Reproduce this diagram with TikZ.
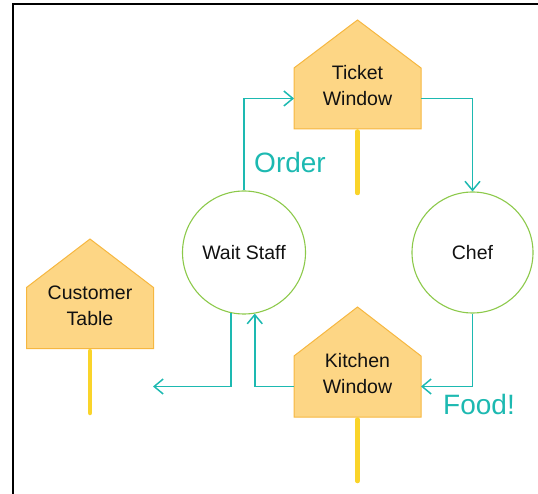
\documentclass[tikz,border=0pt]{standalone}
\usepackage{fontspec}
\setmainfont{Liberation Sans}
\usetikzlibrary{arrows.meta}
\definecolor{teal1}{HTML}{1DB9B1}
\definecolor{pfill}{HTML}{FDD685}
\definecolor{pdraw}{HTML}{F6B740}
\definecolor{stick}{HTML}{FAD42A}
\definecolor{cgreen}{HTML}{8CC94A}
\definecolor{txt}{HTML}{111111}
\begin{document}
\begin{tikzpicture}[x=1pt,y=-1pt,
  body/.style={minimum width=127pt,minimum height=61pt,inner sep=0pt,outer sep=0pt},
  pent/.style={fill=pfill,draw=pdraw,line width=1pt,line join=miter},
  lbl/.style={align=center,text=txt,font=\fontsize{19.5}{26}\selectfont},
  stickline/.style={draw=stick,line width=4.5pt,line cap=round},
  circ/.style={circle,draw=cgreen,line width=1.1pt,inner sep=0pt,text=txt,font=\fontsize{19.5}{26}\selectfont},
  flow/.style={draw=teal1,line width=1.5pt,-{Straight Barb[length=9pt,width=15pt,line width=1.5pt]}},
  big/.style={text=teal1,font=\fontsize{28}{32}\selectfont,inner sep=0pt}]
\useasboundingbox (0,0) rectangle (538,494);
% frame
\draw[line width=2pt] (12.5,494) -- (12.5,4.5) -- (538,4.5);

% Ticket Window
\node[body] (tw) at (357.5,98.5) {};
\filldraw[pent] (tw.south west) -- (tw.north west) -- (357.5,20) -- (tw.north east) -- (tw.south east) -- cycle;
\node[lbl] (twt) at (357.5,86) {Ticket\\Window};
\coordinate (twend) at (357.5,193);
\draw[stickline] ([yshift=-2.5pt]tw.south) -- (twend);

% Kitchen Window
\node[body] (kw) at (357.5,386.5) {};
\filldraw[pent] (kw.south west) -- (kw.north west) -- (357.5,307) -- (kw.north east) -- (kw.south east) -- cycle;
\node[lbl] (kwt) at (357.5,374) {Kitchen\\Window};
\coordinate (kwend) at (357.5,481);
\draw[stickline] ([yshift=-2.5pt]kw.south) -- (kwend);

% Customer Table
\node[body] (ct) at (90,318) {};
\filldraw[pent] (ct.south west) -- (ct.north west) -- (90,239) -- (ct.north east) -- (ct.south east) -- cycle;
\node[lbl] (ctt) at (90,305.5) {Customer\\Table};
\coordinate (ctend) at (90,413);
\draw[stickline] ([yshift=-2.5pt]ct.south) -- (ctend);

% circles
\node[circ,minimum size=123pt] (ws) at (244,252.5) {Wait Staff};
\node[circ,minimum size=121pt] (chef) at (472.5,252.5) {Chef};

% flows
\draw[flow] (ws.north) |- (tw.west);
\draw[flow] (tw.east) -| (chef.north);
\draw[flow] (chef.south) |- (kw.east);
\draw[flow] (kw.west) -| (ws.-80.5);
\coordinate (out) at (153,386.5);
\draw[flow] (ws.-102) |- (out);

% labels
\node[big] (order) at (290,162) {Order};
\node[big] (food) at (479,404) {Food!};
\end{tikzpicture}
\end{document}
